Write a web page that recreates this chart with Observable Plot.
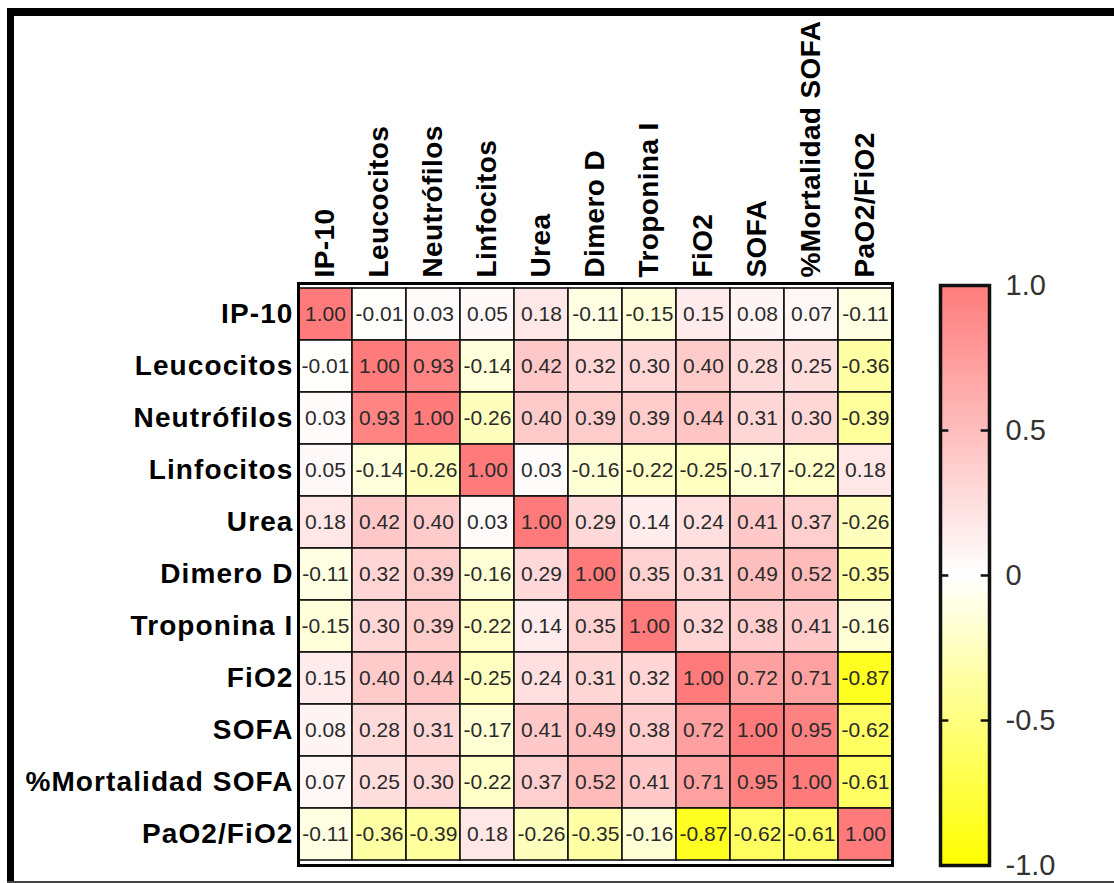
<!DOCTYPE html>
<html>
<head>
<meta charset="utf-8">
<script src="https://cdn.jsdelivr.net/npm/d3@7"></script>
<script src="https://cdn.jsdelivr.net/npm/@observablehq/plot@0.6"></script>
<style>
  html, body { margin: 0; padding: 0; background: #fff; }
  #wrap { position: relative; width: 1114px; height: 883px; overflow: hidden; background: #fff; }
  #wrap svg { position: absolute; left: 0; top: 0; }
  .bar { position: absolute; background: #000; }
  #wrap .mainplot g[aria-label="x-axis tick label"] text { letter-spacing: 0.4px; }
  #wrap .mainplot g[aria-label="y-axis tick label"] text { letter-spacing: 1.1px; }
</style>
</head>
<body>
<div id="wrap">
  <div class="bar" style="left:7px; top:8px; right:0; height:8px;"></div>
  <div class="bar" style="left:7px; top:8px; width:7px; height:874px;"></div>
  <div class="bar" style="left:7px; top:881px; right:0; height:2px; background:#444;"></div>
</div>
<script>
const variables = ["IP-10", "Leucocitos", "Neutrófilos", "Linfocitos", "Urea", "Dimero D",
  "Troponina I", "FiO2", "SOFA", "%Mortalidad SOFA", "PaO2/FiO2"];

const rIP10       = [ 1.00, -0.01,  0.03,  0.05,  0.18, -0.11, -0.15,  0.15,  0.08,  0.07, -0.11];
const rLeucocitos = [-0.01,  1.00,  0.93, -0.14,  0.42,  0.32,  0.30,  0.40,  0.28,  0.25, -0.36];
const rNeutrofilos= [ 0.03,  0.93,  1.00, -0.26,  0.40,  0.39,  0.39,  0.44,  0.31,  0.30, -0.39];
const rLinfocitos = [ 0.05, -0.14, -0.26,  1.00,  0.03, -0.16, -0.22, -0.25, -0.17, -0.22,  0.18];
const rUrea       = [ 0.18,  0.42,  0.40,  0.03,  1.00,  0.29,  0.14,  0.24,  0.41,  0.37, -0.26];
const rDimeroD    = [-0.11,  0.32,  0.39, -0.16,  0.29,  1.00,  0.35,  0.31,  0.49,  0.52, -0.35];
const rTroponina  = [-0.15,  0.30,  0.39, -0.22,  0.14,  0.35,  1.00,  0.32,  0.38,  0.41, -0.16];
const rFiO2       = [ 0.15,  0.40,  0.44, -0.25,  0.24,  0.31,  0.32,  1.00,  0.72,  0.71, -0.87];
const rSOFA       = [ 0.08,  0.28,  0.31, -0.17,  0.41,  0.49,  0.38,  0.72,  1.00,  0.95, -0.62];
const rMortalidad = [ 0.07,  0.25,  0.30, -0.22,  0.37,  0.52,  0.41,  0.71,  0.95,  1.00, -0.61];
const rPaO2FiO2   = [-0.11, -0.36, -0.39,  0.18, -0.26, -0.35, -0.16, -0.87, -0.62, -0.61,  1.00];

const matrix = [rIP10, rLeucocitos, rNeutrofilos, rLinfocitos, rUrea, rDimeroD,
  rTroponina, rFiO2, rSOFA, rMortalidad, rPaO2FiO2];

const legendTicks = [-1, -0.5, 0, 0.5, 1];
const innerTicks = [-0.5, 0, 0.5];

const data = [];
matrix.forEach((row, i) => row.forEach((v, j) => data.push({row: variables[i], col: variables[j], v})));

const colorScale = {type: "linear", domain: [-1, 0, 1], range: ["#ffff00", "#ffffff", "#ff7b7b"], interpolate: "rgb"};
const font = "'Liberation Sans', Arial, Helvetica, sans-serif";

const main = Plot.plot({
  className: "mainplot",
  width: 1114, height: 883,
  marginLeft: 298, marginRight: 222, marginTop: 283, marginBottom: 18,
  style: {background: "transparent", fontFamily: font, color: "#000"},
  x: {domain: variables, padding: 0, axis: null},
  y: {domain: variables, padding: 0, axis: null},
  color: colorScale,
  marks: [
    Plot.cell(data, {x: "col", y: "row", fill: "v", stroke: "#111", strokeWidth: 1.6}),
    Plot.text(data, {x: "col", y: "row", text: d => d.v.toFixed(2), fontSize: 21, fill: "#2a2a2a"}),
    Plot.frame({stroke: "#000", strokeWidth: 3}),
    Plot.axisX({anchor: "top", tickRotate: -90, tickSize: 0, tickPadding: 6, fontSize: 28, fontWeight: "bold", label: null, fill: "#000"}),
    Plot.axisY({anchor: "left", tickSize: 0, tickPadding: 5, fontSize: 28, fontWeight: "bold", label: null, fill: "#000"})
  ]
});

const step = 0.01;
const steps = d3.range(-1, 1 - 1e-9, step);
const bar = Plot.plot({
  width: 1114, height: 883,
  marginLeft: 940, marginRight: 125, marginTop: 285, marginBottom: 18,
  style: {background: "transparent", fontFamily: font},
  x: {domain: [0, 1], axis: null},
  y: {domain: [-1, 1], axis: null},
  color: colorScale,
  marks: [
    Plot.rect(steps, {x1: 0, x2: 1, y1: d => d, y2: d => Math.min(1, d + step * 1.6), fill: d => d + step / 2}),
    Plot.ruleY(innerTicks, {x1: 0, x2: 0.17, stroke: "#111", strokeWidth: 2.5}),
    Plot.ruleY(innerTicks, {x1: 0.83, x2: 1, stroke: "#111", strokeWidth: 2.5}),
    Plot.frame({stroke: "#111", strokeWidth: 3.5}),
    Plot.axisY({anchor: "right", ticks: legendTicks, tickSize: 0, tickPadding: 16, fontSize: 29, fill: "#333",
      tickFormat: d => d === 0 ? "0" : d.toFixed(1), label: null})
  ]
});

const wrap = document.getElementById("wrap");
wrap.appendChild(main);
wrap.appendChild(bar);
</script>
</body>
</html>
